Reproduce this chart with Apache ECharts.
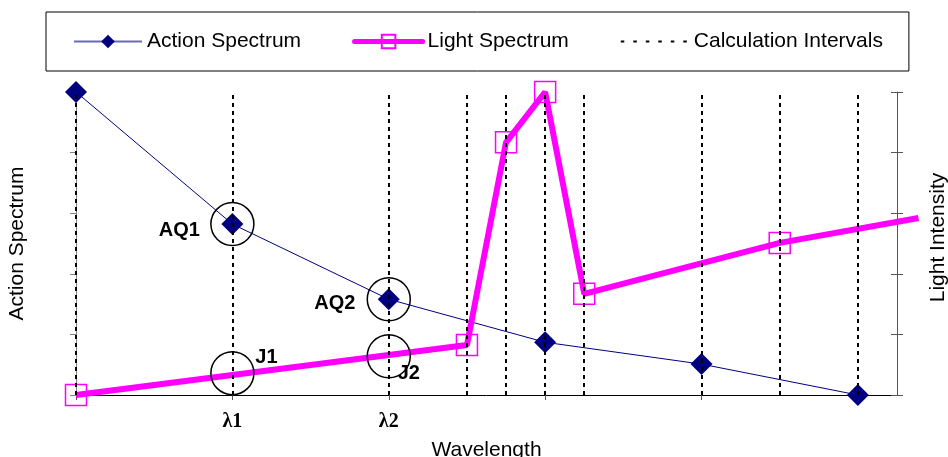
<!DOCTYPE html>
<html>
<head>
<meta charset="utf-8">
<script src="https://cdn.jsdelivr.net/npm/echarts@6/dist/echarts.min.js"></script>
<style>
html,body{margin:0;padding:0;background:#fff;overflow:hidden;}
#chart{width:948px;height:457px;}
</style>
</head>
<body>
<div id="chart"></div>
<script>
// ---- data ----
const seriesNames = ['Action Spectrum', 'Light Spectrum', 'Calculation Intervals'];
const actionX = [0, 4, 8, 12, 16, 20];
const actionY = [5, 2.82, 1.58, 0.87, 0.51, 0];
const lightX = [0, 10, 11, 12, 13, 18, 21.55];
const lightY = [0, 0.825, 4.17, 5, 1.67, 2.51, 2.92];
const intervalX = [0, 4, 8, 10, 11, 12, 13, 16, 18, 20];
const circleX = [4, 8, 4, 8];
const circleY = [2.82, 1.58, 0.36, 0.64];
const circleLabels = ['AQ1', 'AQ2', 'J1', 'J2'];
const lambdaTicks = [4, 8];
const lambdaLabels = ['λ1', 'λ2'];

// ---- layout / style ----
const W = 948, GL = 76, GR = 51, GT = 92, GB = 62;
const X_MAX = 21;
// second (wider) grid shares the same pixel scale so the light line can run past the right axis
const X_MAX_WIDE = X_MAX * (W - GL) / (W - GL - GR);
const labelOffsets = [[-53, 6], [-54, 4], [34, -16], [20, 17]];
const FONT = 'Liberation Sans, Arial, sans-serif';

const chart = echarts.init(document.getElementById('chart'), null, {renderer: 'canvas'});

const lightData = lightX.map((x, i) => {
  const item = {value: [x, lightY[i]]};
  if (x > X_MAX) item.symbol = 'none';
  return item;
});

const hiddenAxis = {show: false};

const option = {
  backgroundColor: '#fff',
  animation: false,
  grid: [
    {left: GL, right: GR, top: GT, bottom: GB, containLabel: false, outerBoundsMode: 'none'},
    {left: GL, right: 0, top: GT, bottom: GB, containLabel: false, outerBoundsMode: 'none'}
  ],
  legend: {
    data: [
      {name: seriesNames[0], lineStyle: {color: '#6b6bb5', width: 2}},
      {name: seriesNames[1], lineStyle: {color: '#FF00FF', width: 5, cap: 'round'}},
      {name: seriesNames[2], itemStyle: {color: 'rgba(0,0,0,0)', borderWidth: 0}, lineStyle: {color: '#000', width: 2, type: [3.5, 9]}}
    ],
    left: 46, top: 12,
    padding: [19, 26, 19, 27],
    itemGap: 51,
    itemWidth: 68,
    itemHeight: 17,
    borderColor: '#000',
    borderWidth: 1,
    backgroundColor: '#fff',
    textStyle: {fontFamily: FONT, fontSize: 21, color: '#000'}
  },
  xAxis: [
    {
      type: 'value', gridIndex: 0, min: 0, max: X_MAX, interval: 4,
      axisLine: {show: true, lineStyle: {color: '#000', width: 1}},
      axisTick: {show: true, length: 5, lineStyle: {color: '#555'}},
      splitLine: {show: false},
      axisLabel: {
        margin: 17,
        showMaxLabel: false,
        fontFamily: 'Liberation Serif, Times New Roman, serif',
        fontWeight: 'bold', fontSize: 20, color: '#000',
        formatter: v => { const i = lambdaTicks.indexOf(v); return i >= 0 ? lambdaLabels[i] : ''; }
      },
      name: 'Wavelength', nameLocation: 'middle', nameGap: 45,
      nameTextStyle: {fontFamily: FONT, fontSize: 21, color: '#000'}
    },
    Object.assign({type: 'value', gridIndex: 1, min: 0, max: X_MAX_WIDE}, hiddenAxis)
  ],
  yAxis: [
    {
      type: 'value', gridIndex: 0, min: 0, max: 5, interval: 1, position: 'left',
      axisLine: {show: true, lineStyle: {color: '#808080'}},
      axisTick: {show: true, length: 6, lineStyle: {color: '#808080'}},
      axisLabel: {show: false}, splitLine: {show: false},
      name: 'Action Spectrum', nameLocation: 'middle', nameGap: 48,
      nameTextStyle: {fontFamily: FONT, fontSize: 21, color: '#000'}
    },
    {
      type: 'value', gridIndex: 0, min: 0, max: 5, interval: 1, position: 'right',
      axisLine: {show: true, lineStyle: {color: '#555'}},
      axisTick: {show: true, length: 6, lineStyle: {color: '#555'}},
      axisLabel: {show: false}, splitLine: {show: false},
      name: 'Light Intensity', nameLocation: 'middle', nameGap: 31, nameRotate: 90,
      nameTextStyle: {fontFamily: FONT, fontSize: 21, color: '#000', padding: [0, 0, 0, 12]}
    },
    {
      type: 'value', gridIndex: 0, min: 0, max: 5, interval: 1, position: 'right',
      axisLine: {show: false},
      axisTick: {show: true, inside: true, length: 6, lineStyle: {color: '#555'}},
      axisLabel: {show: false}, splitLine: {show: false}
    },
    Object.assign({type: 'value', gridIndex: 1, min: 0, max: 5}, hiddenAxis)
  ],
  series: [
    {
      name: 'Calculation Intervals', type: 'line', data: [],
      xAxisIndex: 0, yAxisIndex: 0,
      symbol: 'none', z: 1,
      lineStyle: {color: '#000', width: 2, type: [4, 4]},
      itemStyle: {color: 'rgba(0,0,0,0)'},
      markLine: {
        silent: true, symbol: 'none', animation: false,
        label: {show: false},
        lineStyle: {color: '#000', width: 2, type: [4, 4]},
        data: intervalX.map(x => ({xAxis: x}))
      }
    },
    {
      name: 'Action Spectrum', type: 'line', z: 3,
      xAxisIndex: 0, yAxisIndex: 0,
      data: actionX.map((x, i) => [x, actionY[i]]),
      symbol: 'diamond', symbolSize: 22,
      lineStyle: {color: '#000080', width: 1},
      itemStyle: {color: '#000080'}
    },
    {
      name: 'Light Spectrum', type: 'line', z: 4,
      xAxisIndex: 1, yAxisIndex: 3,
      data: lightData,
      symbol: 'rect', symbolSize: 21,
      lineStyle: {color: '#FF00FF', width: 6, cap: 'butt'},
      itemStyle: {color: 'rgba(255,255,255,0)', borderColor: '#FF00FF', borderWidth: 1.5}
    },
    {
      name: 'circles', type: 'scatter', z: 5,
      xAxisIndex: 0, yAxisIndex: 0,
      data: circleX.map((x, i) => ({
        value: [x, circleY[i]],
        label: {offset: labelOffsets[i]}
      })),
      symbol: 'circle', symbolSize: 43,
      itemStyle: {color: 'rgba(255,255,255,0)', borderColor: '#000', borderWidth: 1.5, opacity: 1},
      label: {
        show: true, position: 'inside',
        formatter: p => circleLabels[p.dataIndex],
        fontFamily: FONT, fontWeight: 'bold', fontSize: 20, color: '#000',
        textBorderWidth: 0
      }
    }
  ]
};
chart.setOption(option);
</script>
</body>
</html>
